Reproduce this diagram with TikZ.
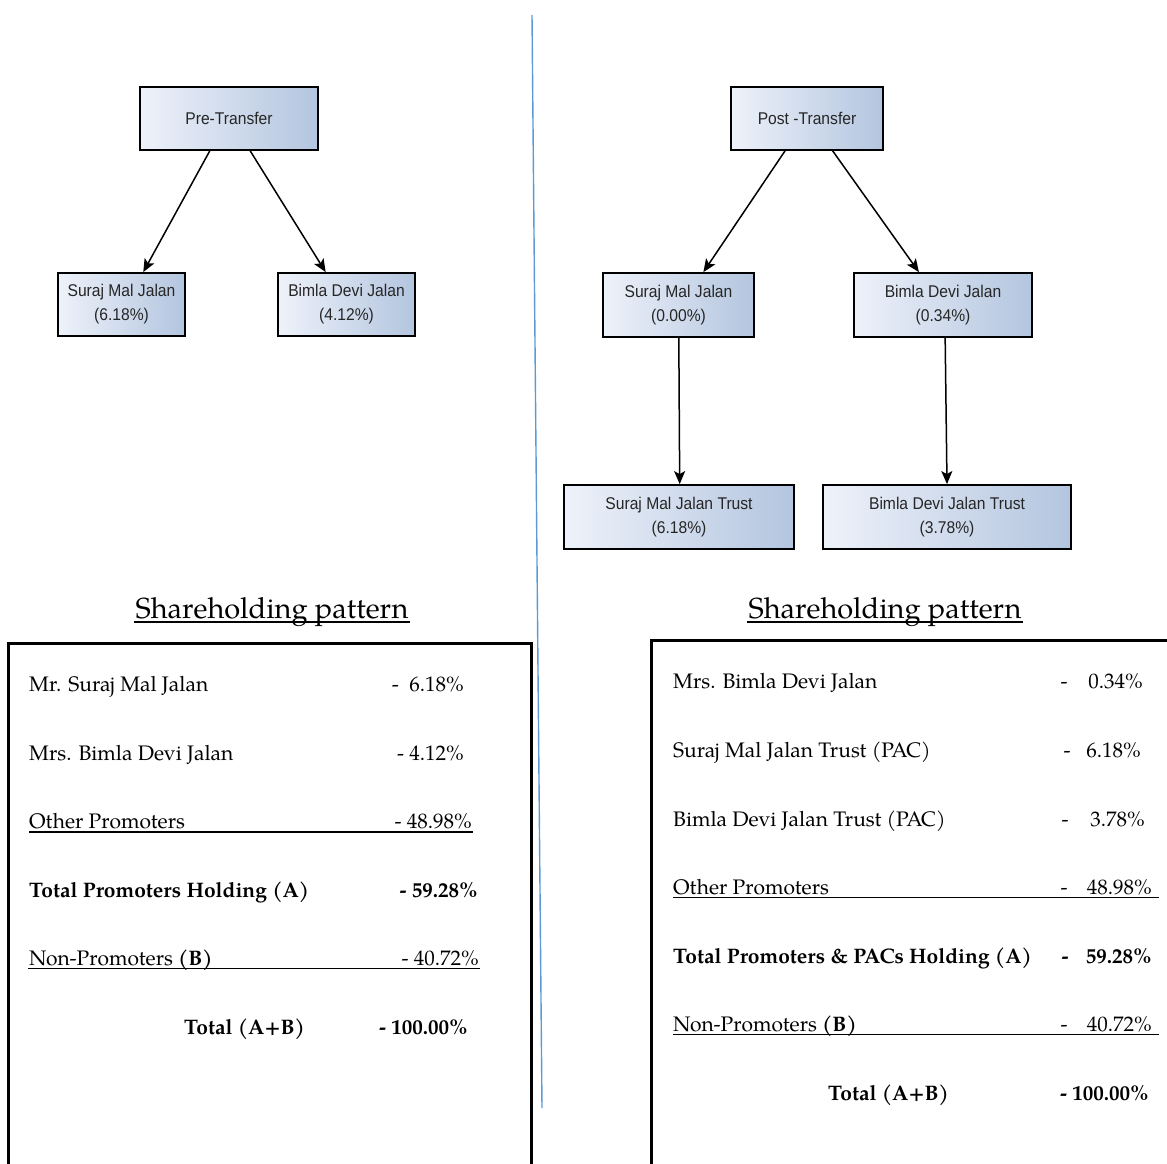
\documentclass[tikz,border=0pt]{standalone}
\usepackage{fontspec}
\setmainfont{TeX Gyre Pagella}
\newfontfamily\boxfont[FakeStretch=0.92]{Liberation Sans}
\usetikzlibrary{arrows.meta,calc}
\definecolor{boxleft}{HTML}{EEF2FA}
\definecolor{boxright}{HTML}{B3C5DF}
\definecolor{boxtext}{HTML}{262626}
\definecolor{divider}{HTML}{5B9BD5}
\tikzset{
  orgbox/.style={draw=black, line width=1.8pt, left color=boxleft, right color=boxright,
    inner sep=0pt, align=center, text=boxtext, font=\boxfont\fontsize{17}{24}\selectfont},
  link/.style={draw=black, line width=1.5pt, -{Stealth[length=13pt,width=11pt,inset=3pt]}},
  lbl/.style={anchor=base west, inner sep=0pt, font=\fontsize{21}{24}\selectfont},
  val/.style={anchor=base east, inner sep=0pt, font=\fontsize{21}{24}\selectfont},
  dsh/.style={anchor=base, inner sep=0pt, font=\fontsize{21}{24}\selectfont},
  ttl/.style={anchor=base, inner sep=0pt, font=\fontsize{29}{32}\selectfont},
  frame/.style={draw=black, line width=3pt},
  uline/.style={draw=black, line width=1.6pt}
}
\begin{document}
\begin{tikzpicture}[x=1pt,y=-1pt]
\useasboundingbox (0,0) rectangle (1167,1164);
% divider
\draw[divider, line width=1.4pt] (532,15) coordinate (dtop) -- (542,1108) coordinate (dbot);

% ---------- Pre-transfer tree ----------
\node[orgbox, minimum width=178pt, minimum height=63pt] (pre) at (229,118.5) {Pre-Transfer};
\node[orgbox, minimum width=127pt, minimum height=63pt] (sml) at (121.5,304.5) {Suraj Mal Jalan\\(6.18\%)};
\node[orgbox, minimum width=137pt, minimum height=63pt] (bdl) at (346.5,304.5) {Bimla Devi Jalan\\(4.12\%)};
\draw[link] ($(pre.south west)!0.393!(pre.south east)$) -- ($(sml.north west)!0.669!(sml.north east)$);
\draw[link] ($(pre.south west)!0.618!(pre.south east)$) -- ($(bdl.north west)!0.35!(bdl.north east)$);

% ---------- Post-transfer tree ----------
\node[orgbox, minimum width=152pt, minimum height=63pt] (post) at (807,118.5) {Post -Transfer};
\node[orgbox, minimum width=151pt, minimum height=64pt] (smr) at (678.5,305) {Suraj Mal Jalan\\(0.00\%)};
\node[orgbox, minimum width=178pt, minimum height=64pt] (bdr) at (943,305) {Bimla Devi Jalan\\(0.34\%)};
\node[orgbox, minimum width=230pt, minimum height=64pt] (smt) at (679,517) {Suraj Mal Jalan Trust\\(6.18\%)};
\node[orgbox, minimum width=248pt, minimum height=64pt] (bdt) at (947,517) {Bimla Devi Jalan Trust\\(3.78\%)};
\draw[link] ($(post.south west)!0.357!(post.south east)$) -- ($(smr.north west)!0.663!(smr.north east)$);
\draw[link] ($(post.south west)!0.667!(post.south east)$) -- ($(bdr.north west)!0.366!(bdr.north east)$);
\draw[link] ($(smr.south west)!0.502!(smr.south east)$) -- ($(smt.north west)!0.503!(smt.north east)$);
\draw[link] ($(bdr.south west)!0.512!(bdr.south east)$) -- ($(bdt.north west)!0.5!(bdt.north east)$);

% ---------- Left shareholding table ----------
\node[ttl] (ttlL) at (272,618) {Shareholding pattern};
\draw[uline] (134,622) -- (410,622);
\draw[frame] (8,1175) -- (8,643) -- (531,643) -- (531,1175);

\node[lbl] (l1) at (29,691) {Mr. Suraj Mal Jalan};
\node[val] (v1) at (464,691) {- \ 6.18\%};
\node[lbl] (l2) at (29,760) {Mrs. Bimla Devi Jalan};
\node[val] (v2) at (464,760) {- 4.12\%};
\node[lbl] (l3) at (29,828) {Other Promoters};
\node[val] (v3) at (472,828) {- 48.98\%};
\draw[uline] (29,832) -- (473,832);
\node[lbl] (l4) at (29,897) {\bfseries Total Promoters Holding (A)};
\node[val] (v4) at (478,897) {\bfseries - 59.28\%};
\node[lbl] (l5) at (29,965) {Non-Promoters \textbf{(B)}};
\node[val] (v5) at (479,965) {- 40.72\%};
\draw[uline] (28,968.5) -- (480,968.5);
\node[lbl] (l6) at (184,1034) {\bfseries Total (A+B)};
\node[val] (v6) at (468,1034) {\bfseries - 100.00\%};

% ---------- Right shareholding table ----------
\node[ttl] (ttlR) at (885,618) {Shareholding pattern};
\draw[uline] (747,622) -- (1023,622);
\draw[frame] (651,1175) -- (651,640) -- (1175,640);

\node[lbl] (r1) at (673,688.5) {Mrs. Bimla Devi Jalan};
\node[dsh] (d1) at (1064,688.5) {-};
\node[val] (w1) at (1143,688.5) {0.34\%};
\node[lbl] (r2) at (673,757) {Suraj Mal Jalan Trust (PAC)};
\node[dsh] (d2) at (1067,757) {-};
\node[val] (w2) at (1141,757) {6.18\%};
\node[lbl] (r3) at (673,826) {Bimla Devi Jalan Trust (PAC)};
\node[dsh] (d3) at (1065,826) {-};
\node[val] (w3) at (1145,826) {3.78\%};
\node[lbl] (r4) at (673,894) {Other Promoters};
\node[dsh] (d4) at (1064,894) {-};
\node[val] (w4) at (1152,894) {48.98\%};
\draw[uline] (673,897.5) -- (1159,897.5);
\node[lbl] (r5) at (673,963.5) {\bfseries Total Promoters \& PACs Holding (A)};
\node[dsh] (d5) at (1065,963.5) {\bfseries -};
\node[val] (w5) at (1152,963.5) {\bfseries 59.28\%};
\node[lbl] (r6) at (673,1031.5) {Non-Promoters \textbf{(B)}};
\node[dsh] (d6) at (1064,1031.5) {-};
\node[val] (w6) at (1152,1031.5) {40.72\%};
\draw[uline] (673,1034.5) -- (1159,1034.5);
\node[lbl] (r7) at (828,1100) {\bfseries Total (A+B)};
\node[val] (w7) at (1149,1100) {\bfseries - 100.00\%};
\end{tikzpicture}
\end{document}
